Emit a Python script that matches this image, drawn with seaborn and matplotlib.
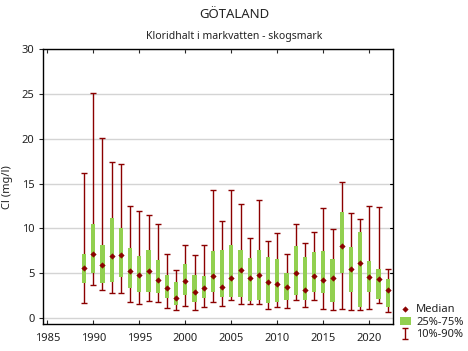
import numpy as np
import pandas as pd
import matplotlib
matplotlib.use('Agg')
import matplotlib.pyplot as plt
import seaborn as sns

# values (Cl, mg/l)
years = list(range(1989, 2023))
p90 = [16.2, 25.1, 20.1, 17.4, 17.2, 12.55, 12.0, 11.45, 10.55, 7.2, 5.33, 8.1, 7.0, 8.1,
       14.33, 10.8, 14.33, 12.78, 8.9, 13.2, 8.6, 9.44, 7.2, 10.55, 8.33, 9.55, 12.33, 9.9,
       15.2, 11.7, 11.1, 12.55, 12.44, 5.48]
p75 = [7.2, 10.55, 8.2, 11.2, 10.0, 7.8, 6.9, 7.6, 6.44, 4.78, 4.03, 6.03, 4.8, 4.7,
       7.48, 7.6, 8.2, 7.55, 6.7, 7.6, 6.8, 6.6, 5.03, 8.03, 6.8, 7.37, 7.48, 6.6,
       11.8, 7.92, 9.59, 6.37, 5.48, 4.37]
median = [5.6, 7.18, 5.9, 6.9, 7.0, 5.3, 4.85, 5.3, 4.3, 3.3, 2.18, 4.18, 2.96, 3.4,
          4.74, 3.5, 4.5, 5.4, 4.5, 4.85, 4.07, 3.85, 3.5, 5.07, 3.18, 4.74, 4.3, 4.5,
          8.07, 5.5, 6.18, 4.63, 4.4, 3.18]
p25 = [3.96, 5.07, 3.96, 4.07, 4.6, 3.3, 2.85, 2.96, 2.74, 2.18, 1.4, 2.52, 1.74, 2.18,
       2.85, 2.3, 2.4, 2.4, 1.92, 2.03, 1.63, 1.74, 1.96, 2.52, 1.96, 2.85, 2.74, 1.74,
       5.0, 2.85, 1.22, 2.85, 2.07, 1.18]
p10 = [1.67, 3.67, 3.1, 2.78, 2.78, 1.78, 1.6, 1.9, 1.74, 1.1, 0.9, 1.37, 0.9, 1.22,
       1.78, 1.33, 2.0, 1.55, 1.52, 1.52, 0.96, 1.18, 1.1, 1.96, 1.22, 1.96, 0.96, 0.9,
       0.96, 0.9, 0.9, 0.96, 1.63, 0.67]

df = pd.DataFrame({'year': years, 'p10': p10, 'p25': p25, 'median': median,
                   'p75': p75, 'p90': p90})

sns.set_style('ticks', {'axes.grid': False})
plt.rcParams['font.family'] = ['Noto Sans', 'DejaVu Sans']

red = '#8b0000'
green = '#92d050'
txt = '#222222'

fig = plt.figure(figsize=(4.68, 3.51), dpi=100)
ax = fig.add_axes([0.0912, 0.0761, 0.7492, 0.7834])

# 10%-90% whiskers
mid = (df['p10'] + df['p90']) / 2
eb = ax.errorbar(df['year'], mid, yerr=[mid - df['p10'], df['p90'] - mid],
                 fmt='none', ecolor=red, elinewidth=1.0, capsize=2.5, capthick=1.0,
                 zorder=2, label='10%-90%')

# 25%-75% boxes
bars = ax.bar(df['year'], df['p75'] - df['p25'], bottom=df['p25'], width=0.46,
              color=green, linewidth=0, zorder=3, label='25%-75%')

# medians
sns.scatterplot(data=df, x='year', y='median', ax=ax, marker='D', s=8,
                color=red, edgecolor=red, linewidth=0.3, zorder=4, label='Median')

ax.set_xlim(1984.5, 2022.6)
ax.set_ylim(-0.7, 30)
ax.set_xticks(np.arange(1985, 2021, 5))
ax.set_yticks(np.arange(0, 31, 5))
ax.set_xlabel('')
ax.set_ylabel('Cl (mg/l)', fontsize=8, color=txt, labelpad=6)

for side in ['left', 'right', 'top', 'bottom']:
    ax.spines[side].set_visible(True)
    ax.spines[side].set_color('black')
    ax.spines[side].set_linewidth(1.0)

ax.tick_params(axis='x', direction='in', length=3, width=0.8, top=True,
               labelsize=8, labelcolor=txt, pad=6)
ax.tick_params(axis='y', direction='out', length=3, width=0.8, right=False,
               labelsize=8, labelcolor=txt, pad=3)
ax.grid(False)
ax.yaxis.grid(True, color='#d4d4d4', linewidth=1.0)
ax.set_axisbelow(True)
for y in np.arange(5, 30, 5):
    ax.plot([2022.6 - 0.35, 2022.6], [y, y], color='black', lw=0.8, zorder=5,
            clip_on=False)

fig.text(0.5, 1 - 15 / 351, 'GÖTALAND', ha='center', va='center', fontsize=9.5,
         color=txt)
fig.text(0.5, 1 - 36.5 / 351, 'Kloridhalt i markvatten - skogsmark', ha='center',
         va='center', fontsize=7.5, color=txt)

handles, labels = ax.get_legend_handles_labels()
order = {'Median': 0, '25%-75%': 1, '10%-90%': 2}
pairs = sorted(zip(handles, labels), key=lambda p: order[p[1]])
ax.legend([p[0] for p in pairs], [p[1] for p in pairs], loc='lower left',
          bbox_to_anchor=(1.005, -0.075), frameon=False, fontsize=8,
          handlelength=1.0, handletextpad=0.5, labelspacing=0.15,
          borderaxespad=0, labelcolor=txt)

fig.savefig('out.png', dpi=100)
